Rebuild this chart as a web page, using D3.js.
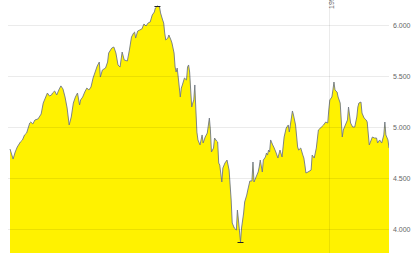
<!DOCTYPE html>
<html><head><meta charset="utf-8">
<script src="https://cdn.jsdelivr.net/npm/d3@7/dist/d3.min.js"></script>
<style>html,body{margin:0;padding:0;background:#fff;}svg{display:block;}</style>
</head><body>
<svg id="chart" width="419" height="258"></svg>
<script>
const dates = ["1998-02-28","1998-03-03","1998-03-05","1998-03-07","1998-03-10","1998-03-12","1998-03-14","1998-03-16","1998-03-19","1998-03-20","1998-03-22","1998-03-24","1998-03-27","1998-03-30","1998-04-01","1998-04-03","1998-04-05","1998-04-07","1998-04-09","1998-04-10","1998-04-12","1998-04-14","1998-04-16","1998-04-18","1998-04-20","1998-04-22","1998-04-24","1998-04-26","1998-04-28","1998-04-30","1998-05-02","1998-05-04","1998-05-06","1998-05-07","1998-05-09","1998-05-11","1998-05-13","1998-05-15","1998-05-17","1998-05-19","1998-05-21","1998-05-23","1998-05-25","1998-05-26","1998-05-28","1998-05-31","1998-06-02","1998-06-03","1998-06-06","1998-06-08","1998-06-10","1998-06-12","1998-06-14","1998-06-16","1998-06-18","1998-06-21","1998-06-23","1998-06-25","1998-06-27","1998-06-28","1998-06-29","1998-07-01","1998-07-03","1998-07-05","1998-07-07","1998-07-09","1998-07-11","1998-07-13","1998-07-15","1998-07-17","1998-07-18","1998-07-20","1998-07-22","1998-07-23","1998-07-25","1998-07-26","1998-07-27","1998-07-28","1998-07-30","1998-07-31","1998-08-02","1998-08-03","1998-08-04","1998-08-05","1998-08-06","1998-08-07","1998-08-08","1998-08-09","1998-08-10","1998-08-11","1998-08-12","1998-08-13","1998-08-15","1998-08-17","1998-08-18","1998-08-19","1998-08-20","1998-08-21","1998-08-22","1998-08-23","1998-08-24","1998-08-25","1998-08-26","1998-08-27","1998-08-28","1998-08-30","1998-09-01","1998-09-02","1998-09-04","1998-09-06","1998-09-08","1998-09-09","1998-09-10","1998-09-12","1998-09-13","1998-09-15","1998-09-16","1998-09-17","1998-09-18","1998-09-20","1998-09-21","1998-09-23","1998-09-25","1998-09-27","1998-09-29","1998-09-30","1998-10-02","1998-10-04","1998-10-05","1998-10-06","1998-10-08","1998-10-09","1998-10-11","1998-10-12","1998-10-14","1998-10-15","1998-10-17","1998-10-19","1998-10-20","1998-10-21","1998-10-23","1998-10-25","1998-10-26","1998-10-27","1998-10-29","1998-10-30","1998-11-01","1998-11-02","1998-11-03","1998-11-04","1998-11-05","1998-11-06","1998-11-08","1998-11-09","1998-11-11","1998-11-13","1998-11-15","1998-11-17","1998-11-19","1998-11-21","1998-11-23","1998-11-24","1998-11-27","1998-11-28","1998-11-30","1998-12-02","1998-12-03","1998-12-05","1998-12-07","1998-12-08","1998-12-09","1998-12-10","1998-12-12","1998-12-15","1998-12-16","1998-12-18","1998-12-20","1998-12-22","1998-12-25","1998-12-27","1998-12-29","1998-12-31","1999-01-01","1999-01-02","1999-01-04","1999-01-05","1999-01-06","1999-01-07","1999-01-09","1999-01-10","1999-01-12","1999-01-13","1999-01-14","1999-01-15","1999-01-17","1999-01-19","1999-01-20","1999-01-22","1999-01-24","1999-01-26","1999-01-28","1999-01-29","1999-01-30","1999-02-01","1999-02-02","1999-02-04","1999-02-06","1999-02-07","1999-02-09","1999-02-12","1999-02-14","1999-02-16","1999-02-17","1999-02-19","1999-02-21","1999-02-23","1999-02-24","1999-02-25","1999-02-27","1999-02-28"];
const values = [4784,4686,4755,4804,4853,4873,4922,4941,5039,5049,5030,5069,5079,5127,5235,5284,5333,5304,5314,5333,5353,5314,5363,5403,5373,5294,5186,5020,5098,5235,5294,5333,5216,5265,5294,5343,5382,5363,5392,5480,5539,5598,5637,5490,5559,5578,5637,5725,5774,5784,5725,5608,5588,5735,5657,5647,5755,5882,5921,5931,5872,5941,5951,5961,6010,5990,6020,6029,6098,6127,6167,6186,6176,6118,6049,6020,5921,5853,5872,5902,5853,5823,5774,5725,5588,5539,5578,5490,5392,5294,5382,5412,5480,5461,5588,5608,5539,5363,5196,5235,5265,5412,5167,4950,4873,4824,4922,4843,4902,4941,5088,4971,4755,4794,4892,4863,4853,4647,4627,4461,4598,4647,4676,4578,4284,4059,4010,3990,4186,4088,3873,4010,4157,4265,4333,4382,4471,4471,4657,4461,4510,4559,4608,4676,4559,4676,4706,4745,4725,4774,4755,4873,4824,4804,4755,4696,4774,4706,4902,4990,5020,4951,5157,5118,5020,4804,4774,4794,4725,4696,4627,4549,4559,4578,4725,4696,4794,4971,5000,5020,5049,5039,5167,5265,5294,5363,5441,5363,5343,5294,5235,5069,4902,4971,5020,5069,5196,5039,5000,5000,5098,5196,5235,5245,5137,5088,5069,5049,4824,4902,4892,4892,4843,4873,4843,4922,5049,4922,4873,4794];
const yTickValues = [4000, 4500, 5000, 5500, 6000];
const xGridDates = ["1999-01-01"];
const xGridLabels = ["1999"];

const parse = d3.timeParse("%Y-%m-%d");
const data = dates.map((d, i) => ({date: parse(d), value: values[i]}));

const svg = d3.select("#chart");
const plotLeft = 8, plotRight = 389, plotTop = 0, plotBottom = 253;

const x = d3.scaleTime()
  .domain(d3.extent(data, d => d.date))
  .range([10, plotRight]);
const y = d3.scaleLinear()
  .domain([3765, 6245])
  .range([plotBottom, plotTop]);

const de = d3.formatLocale({decimal: ",", thousands: ".", grouping: [3], currency: ["", " €"]});
const fmt = de.format(",.0f");

svg.append("defs").append("clipPath").attr("id", "clip")
  .append("rect").attr("x", plotLeft).attr("y", plotTop)
  .attr("width", plotRight - plotLeft).attr("height", plotBottom - plotTop);

const area = d3.area().x(d => x(d.date)).y0(plotBottom).y1(d => y(d.value));
const line = d3.line().x(d => x(d.date)).y(d => y(d.value));

const g = svg.append("g").attr("clip-path", "url(#clip)");
g.append("path").datum(data).attr("d", area).attr("fill", "#fff200");
g.append("path").datum(data).attr("d", line)
  .attr("fill", "none").attr("stroke", "#6f7785").attr("stroke-width", 0.9);

// horizontal grid
svg.append("g").selectAll("line").data(yTickValues).join("line")
  .attr("x1", plotLeft).attr("x2", plotRight)
  .attr("y1", d => Math.round(y(d)) + 0.5).attr("y2", d => Math.round(y(d)) + 0.5)
  .attr("stroke", "#000").attr("stroke-opacity", 0.08).attr("stroke-width", 1);

// vertical grid
const xg = xGridDates.map(parse);
svg.append("g").selectAll("line").data(xg).join("line")
  .attr("x1", d => Math.round(x(d)) + 0.5).attr("x2", d => Math.round(x(d)) + 0.5)
  .attr("y1", 0).attr("y2", plotBottom)
  .attr("stroke", "#000").attr("stroke-opacity", 0.08).attr("stroke-width", 1);

svg.append("g").selectAll("text").data(xg).join("text")
  .attr("transform", d => `translate(${Math.round(x(d)) + 5},9) rotate(-90)`)
  .attr("text-anchor", "start")
  .attr("font-family", "Liberation Sans, Arial, sans-serif")
  .attr("font-size", 7).attr("fill", "#666")
  .text((d, i) => xGridLabels[i]);

// y axis labels on right
const yAxis = d3.axisRight(y).tickValues(yTickValues).tickFormat(fmt).tickSize(0).tickPadding(4);
const ya = svg.append("g").attr("transform", `translate(${plotRight},0)`).call(yAxis);
ya.select(".domain").remove();
ya.selectAll("text").attr("font-family", "Liberation Sans, Arial, sans-serif")
  .attr("font-size", 7).attr("fill", "#666").attr("dy", "0.4em");

// max / min markers
const maxD = data.reduce((a, b) => b.value > a.value ? b : a);
const minD = data.reduce((a, b) => b.value < a.value ? b : a);
svg.append("g").selectAll("line").data([maxD, minD]).join("line")
  .attr("x1", d => x(d.date) - 3).attr("x2", d => x(d.date) + 3)
  .attr("y1", d => Math.round(y(d.value)) + 0.5).attr("y2", d => Math.round(y(d.value)) + 0.5)
  .attr("stroke", "#222").attr("stroke-width", 1);
</script>
</body></html>
